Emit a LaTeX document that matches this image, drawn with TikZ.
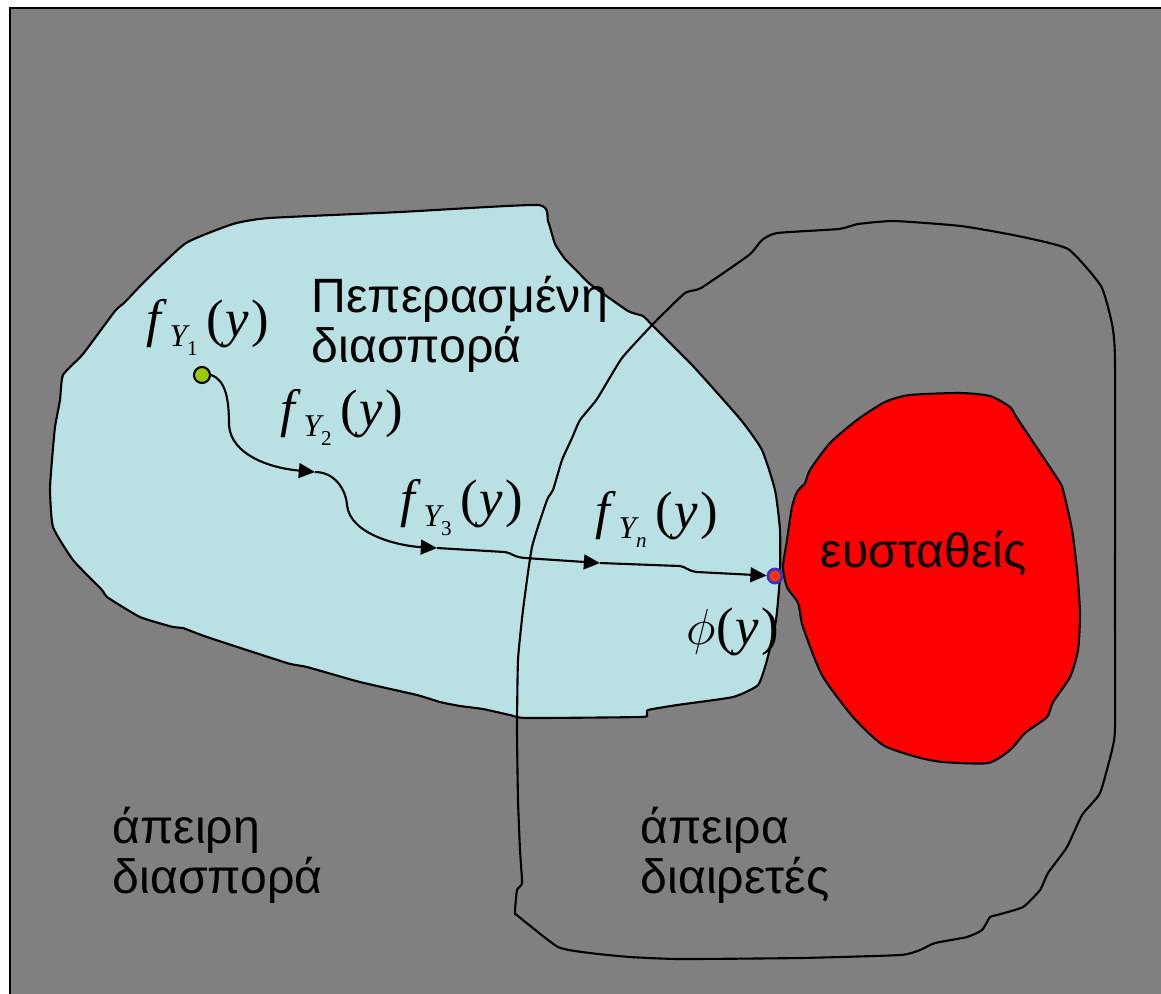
\documentclass[tikz,border=0pt]{standalone}
\usepackage{fontspec}
\setmainfont{Liberation Sans}
\newfontfamily\tms{Liberation Serif}
\usetikzlibrary{arrows.meta}
\definecolor{bggrey}{HTML}{808080}
\definecolor{finblue}{HTML}{B9E0E3}
\definecolor{dotgreen}{HTML}{99CC00}
\definecolor{dotred}{HTML}{FF3300}
\definecolor{dotblue}{HTML}{3333CC}
\newcommand{\flab}[1]{{\tms\fontsize{15pt}{15pt}\selectfont\textit{f}\kern0.6pt\raisebox{-3pt}{\fontsize{9pt}{9pt}\selectfont\textit{Y}\kern-0.8pt\raisebox{-2.5pt}{\fontsize{6pt}{6pt}\selectfont #1}}\kern2.4pt(\kern0.6pt\textit{y}\kern0.6pt)}}
\tikzset{
  outline/.style={draw=black, line width=0.6pt},
  txt/.style={inner sep=0pt, anchor=base west, font=\fontsize{13.7pt}{13.7pt}\selectfont},
  mlab/.style={inner sep=0pt, anchor=base west},
  flow/.style={draw=black, line width=0.6pt, -{Triangle[length=4.6pt,width=4.2pt]}},
}
\begin{document}
\begin{tikzpicture}[x=0.01cm,y=-0.01cm]
\useasboundingbox (0,0) rectangle (1161,993);
% background
\draw[fill=bggrey, line width=0.6pt] (10,8) rectangle (1180,1010);
% finite variance region
\path[outline, fill=finblue] plot[smooth cycle, tension=0.3] coordinates {
 (538,205) (548,221) (555,244) (565,259) (576,270) (590,284) (628,311) (643,316) (653,326)
 (693,366) (741,420) (762,450) (775,490) (780,530) (780,575) (776,620) (767,660) (758,685)
 (733,697) (677,705) (648,710) (647,715) (640,717) (527,718) (510,715) (483,709) (460,706)
 (440,702) (417,695) (360,682) (307,667) (287,663) (207,637) (183,628) (173,627) (140,617)
 (107,597) (102,590) (73,560) (53,527) (50,490) (52,460) (55,427) (60,400) (63,375) (83,354)
 (115,311) (124,303) (147,279) (186,243) (233,224) (269,218) (400,212)};
% infinitely divisible region
\path[outline] plot[smooth cycle, tension=0.3] coordinates {
 (522,883) (517,890) (515,912) (518,916) (558,947) (590,953) (630,957) (680,959) (800,958)
 (900,955) (920,950) (935,943) (967,937) (982,930) (990,917) (997,915) (1023,907) (1040,890)
 (1048,873) (1067,847) (1082,815) (1100,793) (1112,750) (1115,727) (1115,600) (1115,362)
 (1112,324) (1101,286) (1068,249) (1018,236) (961,226) (894,221) (858,224) (839,229) (777,233)
 (762,240) (749,255) (701,288) (685,293) (655,322) (622,358) (597,399) (580,420) (572,438)
 (562,460) (553,490) (547,500) (532,547) (523,610) (518,660) (517,730) (518,800) (520,850)};
% stable region
\path[outline, fill=red] plot[smooth cycle, tension=0.4] coordinates {
 (885,402) (910,395) (960,393) (990,396) (1010,407) (1017,418) (1057,478) (1063,490)
 (1072,530) (1077,570) (1080,613) (1078,650) (1070,677) (1053,702) (1047,717) (1025,733)
 (1010,750) (988,763) (943,762) (917,757) (883,745) (853,717) (822,675) (803,627) (798,603)
 (787,587) (783,567) (787,540) (792,507) (797,492) (805,483) (810,470) (830,443) (857,420)};
% texts
\node[txt] (pep1) at (311,312) {Πεπερασμένη};
\node[txt] (pep2) at (311,362) {διασπορά};
\node[txt] (eus) at (820,567) {ευσταθείς};
\node[txt] (ape1) at (112,843) {άπειρη};
\node[txt] (ape2) at (112,893) {διασπορά};
\node[txt] (dia1) at (640,843) {άπειρα};
\node[txt] (dia2) at (640,893) {διαιρετές};
% math labels
\node[mlab] (l1) at (146,336) {\flab{1}};
\node[mlab] (l2) at (280,426) {\flab{2}};
\node[mlab] (l3) at (400,516) {\flab{3}};
\node[mlab] (ln) at (595,528) {\flab{\textit{n}}};
\node[mlab] (lphi) at (686,644) {\fontsize{15pt}{15pt}\selectfont$\phi$\tms(\kern0.6pt\textit{y}\kern0.6pt)};
% path of densities
\node[circle, draw=black, line width=0.6pt, fill=dotgreen, minimum size=0.16cm, inner sep=0pt] (S) at (202,375) {};
\node[circle, draw=dotblue, line width=0.8pt, fill=dotred, minimum size=0.14cm, inner sep=0pt] (E) at (775,576) {};
\coordinate (p1) at (315,472);
\coordinate (p2) at (437,548);
\coordinate (p3) at (600,563);
\draw[flow] (S.east) .. controls (226,380) and (229,400) .. (229,425) .. controls (231,455) and (270,468) .. (p1);
\draw[flow] (p1) .. controls (335,472) and (346,490) .. (347,505) .. controls (350,535) and (400,546) .. (p2);
\draw[flow] (p2) -- (505,552) .. controls (512,553) and (513,557) .. (525,558) -- (p3);
\draw[flow] (p3) -- (680,566) .. controls (686,567) and (688,571) .. (697,572) -- (E);
\end{tikzpicture}
\end{document}
